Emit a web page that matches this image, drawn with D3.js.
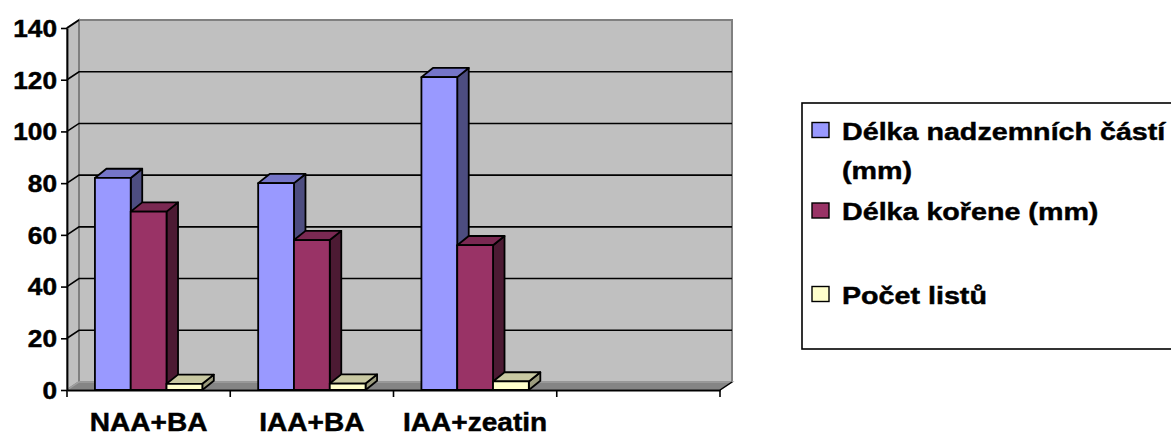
<!DOCTYPE html>
<html>
<head>
<meta charset="utf-8">
<script src="https://cdn.jsdelivr.net/npm/d3@7/dist/d3.min.js"></script>
<style>
  html, body { margin: 0; padding: 0; background: #fff; }
  svg { display: block; }
  text { font-family: "Liberation Sans", Arial, sans-serif; font-weight: bold; fill: #000; stroke: #000; stroke-width: 0.45px; }
</style>
</head>
<body>
<svg id="chart" width="1171" height="437"></svg>
<script>
// Treatments (the fourth slot is left empty)
const categories = ["NAA+BA", "IAA+BA", "IAA+zeatin", ""];
const seriesNames = ["Délka nadzemních částí (mm)", "Délka kořene (mm)", "Počet listů"];
const shootLength = [82, 80, 121, null];
const rootLength  = [69, 58, 56, null];
const leafCount   = [2.4, 2.5, 3.3, null];
const yTickValues = [0, 20, 40, 60, 80, 100, 120, 140];

const seriesValues = [shootLength, rootLength, leafCount];
const faceColors = [
  { front: "#9999FF", top: "#7575C8", side: "#4D4D80" },
  { front: "#993366", top: "#7A2952", side: "#4C1A33" },
  { front: "#FFFFCC", top: "#C9C9A2", side: "#9C9C7E" }
];

const svg = d3.select("#chart");

// Front plane of the 3D box and its depth offsets
const left = 67, right = 720, base = 390, topY = 28;
const wdx = 12, wdy = -8;       // wall depth
const bdx = 11.5, bdy = -9.2;   // bar depth

const x = d3.scaleBand().domain(categories).range([left, right]).padding(0);
const xInner = d3.scaleBand().domain(d3.range(seriesNames.length))
  .range([0, x.bandwidth()]).paddingInner(0).paddingOuter(0.78);
const y = d3.scaleLinear().domain([0, 140]).range([base, topY]);

const pts = a => a.map(p => p.join(",")).join(" ");

// Walls and floor
const g = svg.append("g");
const y0 = y(0), yMax = y(140);
g.append("polygon") // back wall
  .attr("points", pts([[left + wdx, yMax + wdy], [right + wdx, yMax + wdy], [right + wdx, y0 + wdy], [left + wdx, y0 + wdy]]))
  .attr("fill", "#C0C0C0").attr("stroke", "#808080").attr("stroke-width", 2);
g.append("polygon") // side wall
  .attr("points", pts([[left, yMax], [left + wdx, yMax + wdy], [left + wdx, y0 + wdy], [left, y0]]))
  .attr("fill", "#C0C0C0").attr("stroke", "#808080").attr("stroke-width", 2);
g.append("polygon") // floor
  .attr("points", pts([[left, y0], [right, y0], [right + wdx, y0 + wdy], [left + wdx, y0 + wdy]]))
  .attr("fill", "#858585").attr("stroke", "#A0A0A0").attr("stroke-width", 1.5);
g.append("line")
  .attr("x1", right).attr("y1", y0).attr("x2", right + wdx).attr("y2", y0 + wdy)
  .attr("stroke", "#000").attr("stroke-width", 1.5);

// Gridlines across side wall and back wall
const grid = yTickValues.filter(v => v > 0 && v < 140);
g.selectAll(".grid").data(grid).join("polyline")
  .attr("class", "grid")
  .attr("points", v => pts([[left, y(v)], [left + wdx, y(v) + wdy], [right + wdx, y(v) + wdy]]))
  .attr("fill", "none").attr("stroke", "#000").attr("stroke-width", 1.6);
g.append("line")
  .attr("x1", left).attr("y1", yMax).attr("x2", left + wdx).attr("y2", yMax + wdy)
  .attr("stroke", "#000").attr("stroke-width", 1.6);

// Bars
const bars = svg.append("g");
const barData = [];
categories.forEach((c, ci) => {
  seriesValues.forEach((vals, si) => {
    if (vals[ci] != null) barData.push({ c, si, v: vals[ci] });
  });
});
const barGroups = bars.selectAll(".bar").data(barData).join("g").attr("class", "bar");
barGroups.each(function(d) {
  const sel = d3.select(this);
  const x0 = x(d.c) + xInner(d.si), x1 = x0 + xInner.bandwidth();
  const yt = y(d.v), yb = y(0);
  const col = faceColors[d.si];
  const common = s => s.attr("stroke", "#000").attr("stroke-width", 1.8).attr("stroke-linejoin", "round");
  sel.append("polygon")
    .attr("points", pts([[x1, yt], [x1 + bdx, yt + bdy], [x1 + bdx, yb + bdy], [x1, yb]]))
    .attr("fill", col.side).call(common);
  sel.append("polygon")
    .attr("points", pts([[x0, yt], [x0 + bdx, yt + bdy], [x1 + bdx, yt + bdy], [x1, yt]]))
    .attr("fill", col.top).call(common);
  sel.append("rect")
    .attr("x", x0).attr("y", yt).attr("width", x1 - x0).attr("height", yb - yt)
    .attr("fill", col.front).call(common);
});

// Value axis
const yAxis = svg.append("g").attr("transform", `translate(${left},0)`)
  .call(d3.axisLeft(y).tickValues(yTickValues).tickSize(6).tickPadding(10).tickSizeOuter(0));
yAxis.attr("font-family", null);
yAxis.select(".domain").attr("stroke", "#000").attr("stroke-width", 1.8);
yAxis.selectAll(".tick line").attr("stroke", "#000").attr("stroke-width", 1.6);
yAxis.selectAll(".tick text")
  .attr("font-size", 23)
  .attr("x", null).attr("dy", "0.36em")
  .attr("transform", "translate(-10,0) scale(1.14,1)")
  .style("text-anchor", "end");

// Category axis: boundary ticks and centred labels
const xAxis = svg.append("g").attr("transform", `translate(0,${base})`)
  .call(d3.axisBottom(x).tickSize(0).tickPadding(0));
xAxis.attr("font-family", null);
xAxis.select(".domain").attr("stroke", "#000").attr("stroke-width", 1.8);
xAxis.selectAll(".tick text")
  .attr("font-size", 25.5)
  .attr("y", null).attr("dy", null)
  .attr("transform", "translate(0,41) scale(1.1,1)");
const bounds = categories.map(c => x(c)).concat([right]);
xAxis.selectAll(".bound").data(bounds).join("line").attr("class", "bound")
  .attr("x1", d => d).attr("x2", d => d).attr("y1", 0).attr("y2", 7)
  .attr("stroke", "#000").attr("stroke-width", 1.6);

// Legend
const legend = svg.append("g");
legend.append("rect").attr("x", 802).attr("y", 103).attr("width", 420).attr("height", 246)
  .attr("fill", "#fff").attr("stroke", "#000").attr("stroke-width", 1.6);
const legendRows = [
  { lines: ["Délka nadzemních částí", "(mm)"], baseline: 139.5 },
  { lines: ["Délka kořene (mm)"], baseline: 220 },
  { lines: ["Počet listů"], baseline: 303.5 }
];
legendRows.forEach((row, i) => {
  legend.append("rect").attr("x", 812).attr("y", row.baseline - 17).attr("width", 17).attr("height", 15)
    .attr("fill", faceColors[i].front).attr("stroke", "#000").attr("stroke-width", 1.4);
  row.lines.forEach((t, li) => {
    legend.append("text")
      .attr("transform", `translate(842,${row.baseline + li * 39}) scale(1.17,1)`)
      .attr("font-size", 24.5).text(t);
  });
});
</script>
</body>
</html>
